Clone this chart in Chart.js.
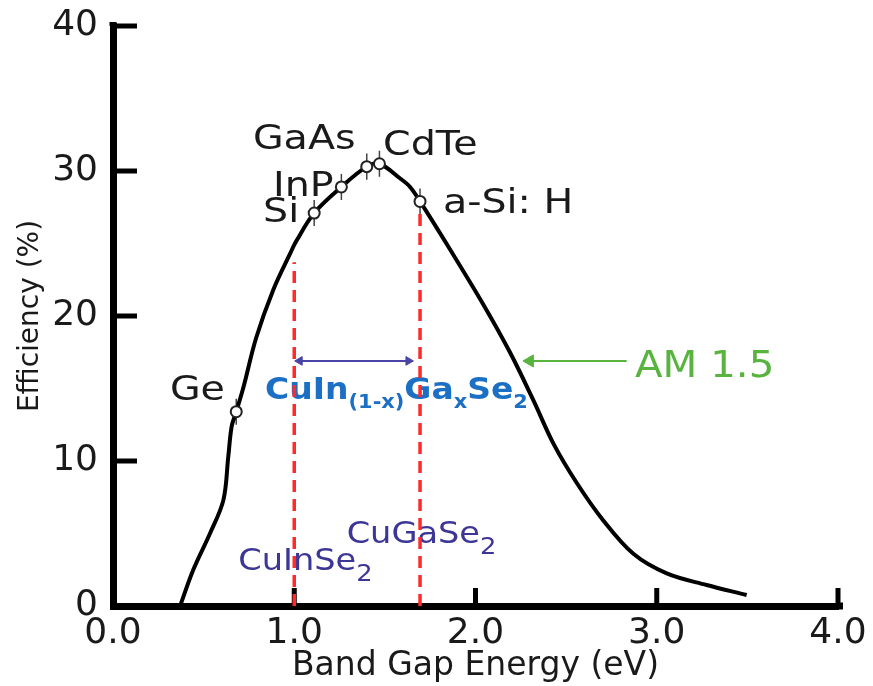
<!DOCTYPE html>
<html>
<head>
<meta charset="utf-8">
<title>Efficiency vs Band Gap Energy</title>
<script src="https://cdn.jsdelivr.net/npm/chart.js@4.4.1/dist/chart.umd.min.js"></script>
<style>
  html, body { margin: 0; padding: 0; background: #fff; }
  #wrap { width: 873px; height: 686px; }
</style>
</head>
<body>
<div id="wrap"><canvas id="effChart"></canvas></div>
<script>
// theoretical limit curve (AM 1.5)
const curveEv  = [0.37, 0.443, 0.535, 0.609, 0.636, 0.655, 0.68, 0.72, 0.79, 0.884, 0.977, 1.013, 1.11, 1.26,
                  1.40, 1.47, 1.583, 1.639, 1.694, 1.859, 2.043, 2.19, 2.319, 2.43, 2.558, 2.705, 2.871,
                  3.055, 3.275, 3.496];
const curveEff = [0.0, 2.5, 5.0, 7.3, 10.3, 12.4, 13.4, 15.1, 18.5, 21.8, 24.3, 25.2, 27.1, 28.9,
                  30.3, 30.5, 29.5, 28.9, 27.9, 24.6, 20.8, 17.5, 14.2, 11.2, 8.5, 5.9, 3.6,
                  2.25, 1.45, 0.76];

// materials sitting on the curve
const materials = ['Ge', 'Si', 'InP', 'GaAs', 'CdTe', 'a-Si: H'];
const gapEv     = [0.68, 1.11, 1.26, 1.40, 1.47, 1.694];
const effPct    = [13.4, 27.1, 28.9, 30.3, 30.5, 27.9];
const effErr    = [0.9, 0.9, 0.9, 0.9, 0.9, 0.9];

// CIGS range: CuInSe2 -> CuGaSe2
const cigsEv  = [1.0, 1.694];
const cigsTop = [23.7, 27.9];
const arrowEff = 16.9;

const xTicks = [0, 1, 2, 3, 4];
const yTicks = [0, 10, 20, 30, 40];

const FONT = 'DejaVu Sans';

// where the text labels go (data units: left edge, baseline)
const matLabelPos = [[0.314, 14.2], [0.828, 26.5], [0.883, 28.3], [0.772, 31.5], [1.49, 31.1], [1.82, 27.1]];

const notes = [
  { parts: [['CuIn', 0], ['(1-x)', 1], ['Ga', 0], ['x', 1], ['Se', 0], ['2', 1]],
    at: [0.839, 14.26], size: 30, sub: 19, dy: 9, bold: true, color: '#1b6fc4', sx: 1.1 },
  { parts: [['CuInSe', 0], ['2', 1]], at: [0.691, 2.48], size: 30, sub: 23, dy: 11, color: '#3c3696', sx: 1.12 },
  { parts: [['CuGaSe', 0], ['2', 1]], at: [1.289, 4.32], size: 30, sub: 23, dy: 11, color: '#3c3696', sx: 1.12 },
  { parts: [['AM 1.5', 0]], at: [2.88, 15.81], size: 37, color: '#58b33f', sx: 1.09 }
];

function drawParts(ctx, x, y, n) {
  const w = n.bold ? 'bold ' : '';
  ctx.save();
  ctx.translate(x, y);
  ctx.scale(n.sx, 1);
  ctx.fillStyle = n.color;
  ctx.textBaseline = 'alphabetic';
  ctx.textAlign = 'left';
  let cx = 0;
  n.parts.forEach(([txt, isSub]) => {
    ctx.font = w + (isSub ? n.sub : n.size) + 'px "' + FONT + '"';
    ctx.fillText(txt, cx, isSub ? n.dy : 0);
    cx += ctx.measureText(txt).width;
  });
  ctx.restore();
}

const decoPlugin = {
  id: 'deco',
  beforeDatasetsDraw(chart) {
    const { ctx, chartArea, scales: { x, y } } = chart;
    ctx.save();
    // axis ends poke out a little past the last tick
    ctx.fillStyle = '#000';
    ctx.fillRect(chartArea.left - 3.5, chartArea.top - 4, 7, 4);
    ctx.fillRect(chartArea.right, chartArea.bottom - 3.5, 5, 7);

    // tick marks pointing into the plot
    ctx.strokeStyle = '#000';
    ctx.lineWidth = 5;
    x.ticks.forEach(t => {
      if (t.value === 0) return;
      const px = x.getPixelForValue(t.value);
      ctx.beginPath();
      ctx.moveTo(px, chartArea.bottom);
      ctx.lineTo(px, chartArea.bottom - 18);
      ctx.stroke();
    });
    y.ticks.forEach(t => {
      if (t.value === 0) return;
      const py = y.getPixelForValue(t.value);
      ctx.beginPath();
      ctx.moveTo(chartArea.left, py);
      ctx.lineTo(chartArea.left + 24, py);
      ctx.stroke();
    });

    // error bars on the material points
    ctx.strokeStyle = '#444';
    ctx.lineWidth = 1.5;
    gapEv.forEach((g, i) => {
      const px = x.getPixelForValue(g);
      ctx.beginPath();
      ctx.moveTo(px, y.getPixelForValue(effPct[i] - effErr[i]));
      ctx.lineTo(px, y.getPixelForValue(effPct[i] + effErr[i]));
      ctx.stroke();
    });

    // material names
    materials.forEach((m, i) => {
      const [lx, ly] = matLabelPos[i];
      drawParts(ctx, x.getPixelForValue(lx), y.getPixelForValue(ly),
        { parts: [[m, 0]], size: 33, color: '#1a1a1a', sx: 1.2 });
    });

    notes.forEach(n => drawParts(ctx, x.getPixelForValue(n.at[0]), y.getPixelForValue(n.at[1]), n));
    ctx.restore();
  }
};

const ctx = document.getElementById('effChart');

new Chart(ctx, {
  type: 'scatter',
  data: {
    datasets: [
      {
        label: 'Materials',
        data: gapEv.map((g, i) => ({ x: g, y: effPct[i] })),
        pointStyle: 'circle',
        pointRadius: 5.5,
        pointBackgroundColor: '#fff',
        pointBorderColor: '#222',
        pointBorderWidth: 2
      },
      {
        label: 'AM 1.5 limit',
        data: curveEv.map((e, i) => ({ x: e, y: curveEff[i] })),
        showLine: true,
        borderColor: '#000',
        borderWidth: 4,
        pointRadius: 0,
        tension: 0.35
      },
      {
        label: 'CuInSe2',
        data: [{ x: cigsEv[0], y: 0 }, { x: cigsEv[0], y: cigsTop[0] }],
        showLine: true,
        borderColor: '#ff2b2b',
        borderWidth: 3.5,
        borderDash: [12, 7],
        pointRadius: 0
      },
      {
        label: 'CuGaSe2',
        data: [{ x: cigsEv[1], y: 0 }, { x: cigsEv[1], y: cigsTop[1] }],
        showLine: true,
        borderColor: '#ff2b2b',
        borderWidth: 3.5,
        borderDash: [12, 7],
        pointRadius: 0
      },
      {
        label: 'CIGS range',
        data: [{ x: 1.03, y: arrowEff }, { x: 1.63, y: arrowEff }],
        showLine: true,
        borderColor: '#4a44a8',
        borderWidth: 2,
        pointStyle: 'triangle',
        pointRadius: 5,
        pointRotation: [-90, 90],
        pointBackgroundColor: '#4a44a8',
        pointBorderColor: '#4a44a8',
        pointBorderWidth: 1
      },
      {
        label: 'AM 1.5 pointer',
        data: [{ x: 2.30, y: arrowEff }, { x: 2.834, y: arrowEff }],
        showLine: true,
        borderColor: '#58b33f',
        borderWidth: 2,
        pointStyle: 'triangle',
        pointRadius: [7, 0],
        pointRotation: [-90, 0],
        pointBackgroundColor: '#58b33f',
        pointBorderColor: '#58b33f',
        pointBorderWidth: 1
      }
    ]
  },
  options: {
    responsive: true,
    maintainAspectRatio: false,
    animation: false,
    layout: { padding: { left: 0, right: 35, top: 26, bottom: 0 } },
    scales: {
      x: {
        type: 'linear',
        min: 0,
        max: 4,
        afterBuildTicks: s => { s.ticks = xTicks.map(v => ({ value: v })); },
        afterFit: s => { s.height = 80; },
        grid: { drawOnChartArea: false, drawTicks: false },
        border: { display: true, color: '#000', width: 7 },
        ticks: {
          padding: 6,
          color: '#1a1a1a',
          font: { family: FONT, size: 36 },
          callback: v => v.toFixed(1)
        },
        title: {
          display: true,
          text: 'Band Gap Energy (eV)',
          color: '#1a1a1a',
          font: { family: FONT, size: 33 },
          padding: { top: 0, bottom: 0 }
        }
      },
      y: {
        type: 'linear',
        min: 0,
        max: 40,
        afterBuildTicks: s => { s.ticks = yTicks.map(v => ({ value: v })); },
        afterFit: s => { s.width = 113; },
        grid: { drawOnChartArea: false, drawTicks: false },
        border: { display: true, color: '#000', width: 7 },
        ticks: {
          padding: 15,
          color: '#1a1a1a',
          font: { family: FONT, size: 36, lineHeight: 0.5 }
        },
        title: {
          display: true,
          text: 'Efficiency (%)',
          color: '#1a1a1a',
          font: { family: FONT, size: 28 },
          padding: { top: 14, bottom: 0 }
        }
      }
    },
    plugins: {
      legend: { display: false },
      tooltip: { enabled: false }
    }
  },
  plugins: [decoPlugin]
});
</script>
</body>
</html>
